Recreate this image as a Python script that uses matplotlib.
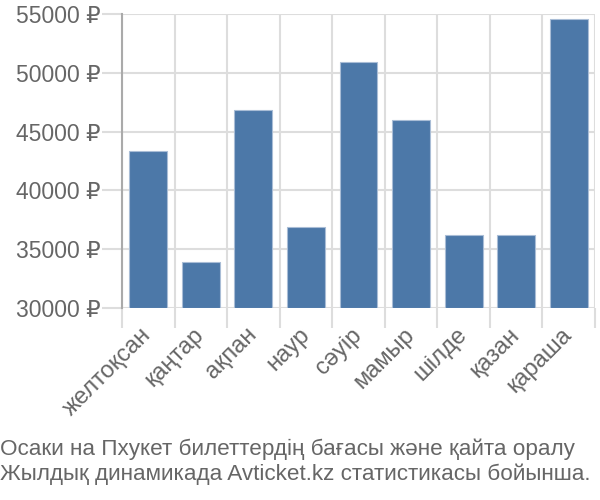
import matplotlib.pyplot as plt
import numpy as np

months = ['желтоқсан', 'қаңтар', 'ақпан', 'наур', 'сәуір', 'мамыр', 'шілде', 'қазан', 'қараша']
prices = [43350, 33890, 46820, 36870, 50890, 45950, 36190, 36190, 54580]
yticks = [30000, 35000, 40000, 45000, 50000, 55000]
title = 'Осаки на Пхукет билеттердің бағасы және қайта оралу\nЖылдық динамикада Avticket.kz статистикасы бойынша.'

plt.rcParams['font.family'] = ['Liberation Sans', 'DejaVu Sans']

fig = plt.figure(figsize=(6, 5), dpi=100)
ax = fig.add_axes([122 / 600, 1 - 308 / 500, 473 / 600, 294 / 500])

x = np.arange(len(months))
ax.bar(x, np.array(prices) - 30000, bottom=30000, width=0.72,
       color='#4c78a8', edgecolor='#a9bdd6', linewidth=0.8, zorder=3)

ax.set_xlim(-0.5, len(months) - 0.5)
ax.set_ylim(30000, 55000)

ax.set_yticks(yticks)
ax.set_yticklabels([f'{v} ₽' for v in yticks])
ax.set_xticks(x)
ax.set_xticklabels(months, rotation=45, ha='right', va='center', rotation_mode='anchor')
ax.set_xticks(np.arange(-0.5, len(months)), minor=True)

ax.tick_params(axis='y', length=14.4, width=1.5, color='#dddddd', pad=1,
               labelsize=16.5, labelcolor='#666666')
ax.tick_params(axis='x', which='major', length=0, pad=17, labelsize=17,
               labelcolor='#666666')
ax.tick_params(axis='x', which='minor', length=14.4, width=1.5, color='#dddddd')
ax.xaxis.get_minor_ticks()[0].tick1line.set_color('#aaaaaa')

ax.grid(axis='y', color='#dddddd', linewidth=1.5, zorder=0)
ax.grid(axis='x', which='minor', color='#dddddd', linewidth=1.5, zorder=0)

for side in ['top', 'right', 'bottom']:
    ax.spines[side].set_visible(False)
ax.spines['left'].set_color('#aaaaaa')
ax.spines['left'].set_linewidth(1.5)

fig.text(0.0, 0.03, title, fontsize=16.2, color='#666666', ha='left', va='bottom',
         linespacing=1.2)

fig.savefig('out.png')
